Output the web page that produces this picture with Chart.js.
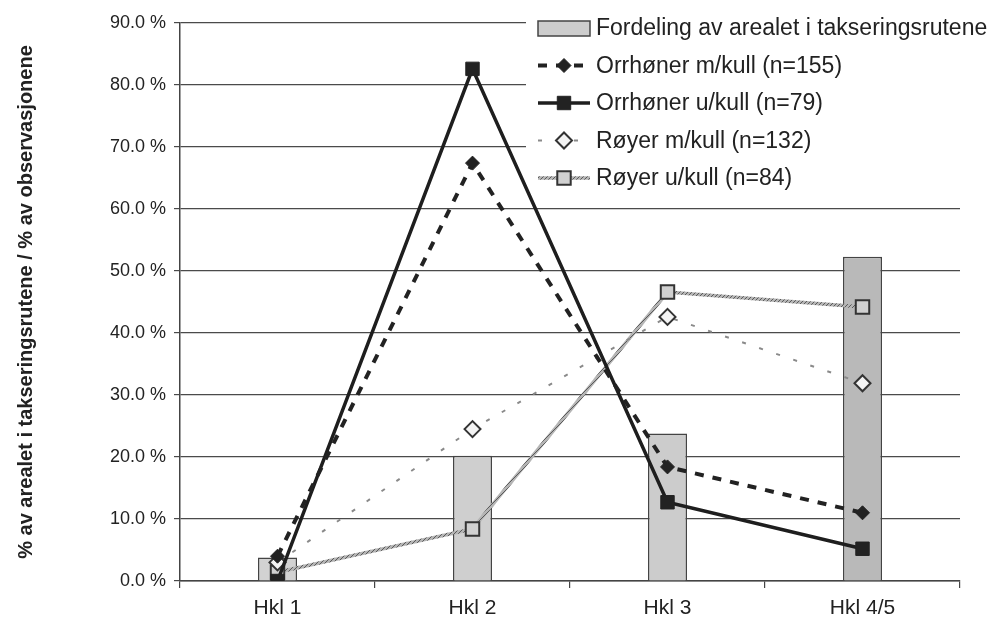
<!DOCTYPE html>
<html>
<head>
<meta charset="utf-8">
<script src="https://cdn.jsdelivr.net/npm/chart.js@4.4.1/dist/chart.umd.min.js"></script>
<style>
  html, body { margin: 0; padding: 0; background: #fff; }
</style>
</head>
<body>
<canvas id="myChart" width="993" height="622"></canvas>
<script>
let categories = ["Hkl 1", "Hkl 2", "Hkl 3", "Hkl 4/5"];
let areaShare = [3.8, 20.2, 23.8, 52.3];
let orrMedKull = [4.0, 67.4, 18.4, 11.0];
let orrUtenKull = [0.0, 82.6, 12.7, 5.2];
let royMedKull = [3.0, 24.5, 42.6, 31.9];
let royUtenKull = [1.4, 8.4, 46.6, 44.2];
let yMin = 0, yMax = 90, yStep = 10;

// little diagonal hatch, used for the grey "Røyer u/kull" line
function hatch(bg, fg) {
    let c = document.createElement("canvas");
    c.width = 4; c.height = 4;
    let x = c.getContext("2d");
    x.fillStyle = bg; x.fillRect(0, 0, 4, 4);
    x.strokeStyle = fg; x.lineWidth = 1;
    x.beginPath(); x.moveTo(0, 4); x.lineTo(4, 0); x.stroke();
    return x.createPattern(c, "repeat");
}

const FONT = "'Liberation Sans', Arial, sans-serif";

// legend box sitting inside the plot, top right
let legendBox = {
    id: "legendBox",
    beforeDatasetsDraw(chart) {
        let ctx = chart.ctx;
        ctx.save();
        ctx.fillStyle = "#fff";
        ctx.fillRect(chart.width - 467, 0, 467, 196);
        ctx.restore();
    },
    afterDraw(chart) {
        let ctx = chart.ctx;
        let x0 = chart.width - 455;
        ctx.save();
        ctx.font = "23px " + FONT;
        ctx.textBaseline = "middle";
        chart.data.datasets.forEach((ds, i) => {
            let y = 28 + i * 37.5;
            if (ds.type === "bar") {
                ctx.fillStyle = "#cdcdcd";
                ctx.fillRect(x0, y - 7, 52, 15);
                ctx.strokeStyle = "#444";
                ctx.lineWidth = 1.5;
                ctx.strokeRect(x0, y - 7, 52, 15);
            } else {
                ctx.strokeStyle = ds.borderColor;
                ctx.lineWidth = ds.borderWidth;
                ctx.setLineDash(ds.borderDash || []);
                ctx.beginPath();
                ctx.moveTo(x0, y);
                ctx.lineTo(x0 + 52, y);
                ctx.stroke();
                ctx.setLineDash([]);
                ctx.fillStyle = ds.pointBackgroundColor;
                ctx.strokeStyle = ds.pointBorderColor;
                ctx.lineWidth = ds.pointBorderWidth;
                Chart.helpers.drawPoint(ctx, {
                    pointStyle: ds.pointStyle,
                    radius: ds.pointRadius,
                    borderWidth: ds.pointBorderWidth,
                    rotation: 0
                }, x0 + 26, y);
            }
            ctx.fillStyle = "#222";
            ctx.fillText(ds.label, x0 + 58, y + 1);
        });
        ctx.restore();
    }
};

let myChart = document.getElementById("myChart").getContext("2d");

let habitatChart = new Chart(myChart, {
    type: "bar",
    data: {
        labels: categories,
        datasets: [
            {
                type: "bar",
                label: "Fordeling av arealet i takseringsrutene",
                data: areaShare,
                backgroundColor: ["#d2d2d2", "#cfcfcf", "#cccccc", "#b9b9b9"],
                borderColor: "#444",
                borderWidth: 1.5,
                barPercentage: 0.2,
                categoryPercentage: 1,
                order: 10
            },
            {
                type: "line",
                label: "Orrhøner m/kull (n=155)",
                data: orrMedKull,
                borderColor: "#222",
                borderWidth: 4,
                borderDash: [9, 9],
                pointStyle: "rectRot",
                pointRadius: 7,
                pointBackgroundColor: "#222",
                pointBorderColor: "#222",
                pointBorderWidth: 1,
                tension: 0
            },
            {
                type: "line",
                label: "Orrhøner u/kull (n=79)",
                data: orrUtenKull,
                borderColor: "#1e1e1e",
                borderWidth: 3.5,
                pointStyle: "rect",
                pointRadius: 9.5,
                pointBackgroundColor: "#222",
                pointBorderColor: "#222",
                pointBorderWidth: 1,
                tension: 0
            },
            {
                type: "line",
                label: "Røyer m/kull (n=132)",
                data: royMedKull,
                borderColor: "#8a8a8a",
                borderWidth: 2,
                borderDash: [4, 14],
                pointStyle: "rectRot",
                pointRadius: 8,
                pointBackgroundColor: "#f4f4f4",
                pointBorderColor: "#333",
                pointBorderWidth: 2,
                tension: 0
            },
            {
                type: "line",
                label: "Røyer u/kull (n=84)",
                data: royUtenKull,
                borderColor: hatch("#b4b4b4", "#5a5a5a"),
                borderWidth: 3.5,
                pointStyle: "rect",
                pointRadius: 9.5,
                pointBackgroundColor: "#d0d0d0",
                pointBorderColor: "#333",
                pointBorderWidth: 2,
                tension: 0
            }
        ]
    },
    plugins: [legendBox],
    options: {
        responsive: false,
        animation: false,
        devicePixelRatio: 1,
        layout: { padding: { top: 23, right: 33, left: 0, bottom: 0 } },
        plugins: {
            legend: { display: false },
            tooltip: { enabled: false }
        },
        scales: {
            x: {
                offset: true,
                grid: { offset: true, drawOnChartArea: false, drawTicks: true, tickLength: 7, color: "#444", lineWidth: 1.2 },
                border: { display: true, color: "#444", width: 1.5 },
                ticks: { color: "#222", font: { family: FONT, size: 21 }, padding: 8 },
                afterFit(scale) { scale.height = 41; }
            },
            y: {
                min: yMin,
                max: yMax,
                grid: { color: "#4a4a4a", lineWidth: 1.2, tickLength: 6 },
                border: { display: true, color: "#444", width: 1.5 },
                ticks: {
                    stepSize: yStep,
                    color: "#222",
                    padding: 8,
                    font: { family: FONT, size: 18 },
                    callback: v => v.toFixed(1) + " %"
                },
                title: {
                    display: true,
                    text: "% av arealet i takseringsrutene / % av observasjonene",
                    color: "#222",
                    font: { family: FONT, size: 20, weight: "bold" },
                    padding: { top: 14, bottom: 0 }
                },
                afterFit(scale) { scale.width = 180; }
            }
        }
    }
});
</script>
</body>
</html>
